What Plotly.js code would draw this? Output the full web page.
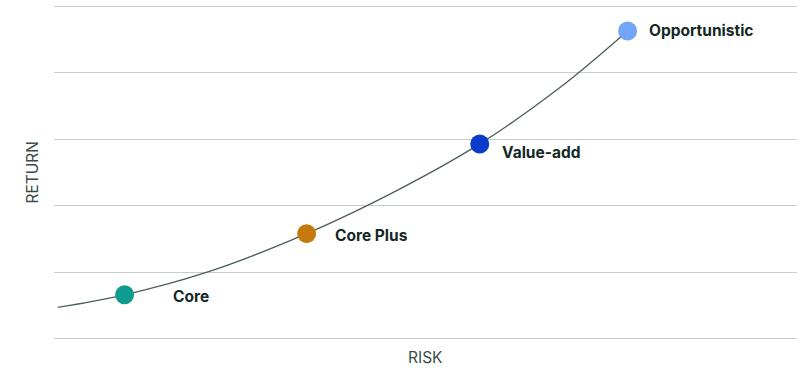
<!DOCTYPE html>
<html>
<head>
<meta charset="utf-8">
<script src="https://cdn.plot.ly/plotly-3.0.1.min.js"></script>
<style>html,body{margin:0;padding:0;background:#fff}#chart{width:800px;height:373px}</style>
</head>
<body>
<div id="chart"></div>
<script>
// Strategies along the risk/return curve
var categories = ["Core", "Core Plus", "Value-add", "Opportunistic"];
var riskValues = [0.95, 3.40, 5.73, 7.72];
var returnValues = [0.66, 1.58, 2.93, 4.63];
var markerColors = ["#0e9c8e", "#c47a0d", "#0a3ccc", "#73a5f7"];
var labelShifts = [46, 26, 20, 19];
var labelYShifts = [-2, -2, -9, 0];

// Curve path points (start of curve, then through the strategy points)
var curveRisk = [0.05, 0.95, 2.06, 3.40, 4.6, 5.73, 6.8, 7.72];
var curveReturn = [0.47, 0.66, 1.0, 1.58, 2.22, 2.93, 3.77, 4.63];

var traces = [
  {
    x: curveRisk, y: curveReturn, mode: "lines", type: "scatter",
    line: {color: "#4d5f5a", width: 1.3, shape: "spline", smoothing: 1},
    hoverinfo: "skip", showlegend: false
  },
  {
    x: riskValues, y: returnValues, mode: "markers", type: "scatter",
    marker: {size: 19, color: markerColors, line: {width: 0}},
    text: categories, hoverinfo: "text", showlegend: false
  }
];

var annotations = categories.map(function (c, i) {
  return {
    x: riskValues[i], y: returnValues[i], xref: "x", yref: "y",
    text: "<b>" + c + "</b>", showarrow: false,
    xanchor: "left", yanchor: "middle",
    xshift: labelShifts[i], yshift: labelYShifts[i],
    font: {family: "Inter, Roboto, sans-serif", size: 15.5, color: "#142826"}
  };
});
annotations.push({
  x: 0.5, y: -0.052, xref: "paper", yref: "paper", text: "RISK",
  showarrow: false, xanchor: "center", yanchor: "middle",
  font: {family: "Inter, Roboto, sans-serif", size: 15.5, color: "#3b4b49"}
});
annotations.push({
  x: -0.0283, y: 0.5, xref: "paper", yref: "paper", text: "RETURN",
  showarrow: false, xanchor: "center", yanchor: "middle", textangle: -90,
  font: {family: "Inter, Roboto, sans-serif", size: 15.5, color: "#3b4b49"}
});

var layout = {
  width: 800, height: 373,
  margin: {l: 54, r: 3, t: 5, b: 33},
  paper_bgcolor: "#ffffff", plot_bgcolor: "#ffffff",
  xaxis: {range: [0, 10], showgrid: false, zeroline: false, showticklabels: false, ticks: "", showline: false, fixedrange: true},
  yaxis: {range: [-0.02, 5.02], dtick: 1, tick0: 0, showgrid: true, gridcolor: "#c9cecd", gridwidth: 1.2, zeroline: false, showticklabels: false, ticks: "", showline: false, fixedrange: true},
  annotations: annotations,
  showlegend: false
};

Plotly.newPlot("chart", traces, layout, {displayModeBar: false, staticPlot: true});
</script>
</body>
</html>
